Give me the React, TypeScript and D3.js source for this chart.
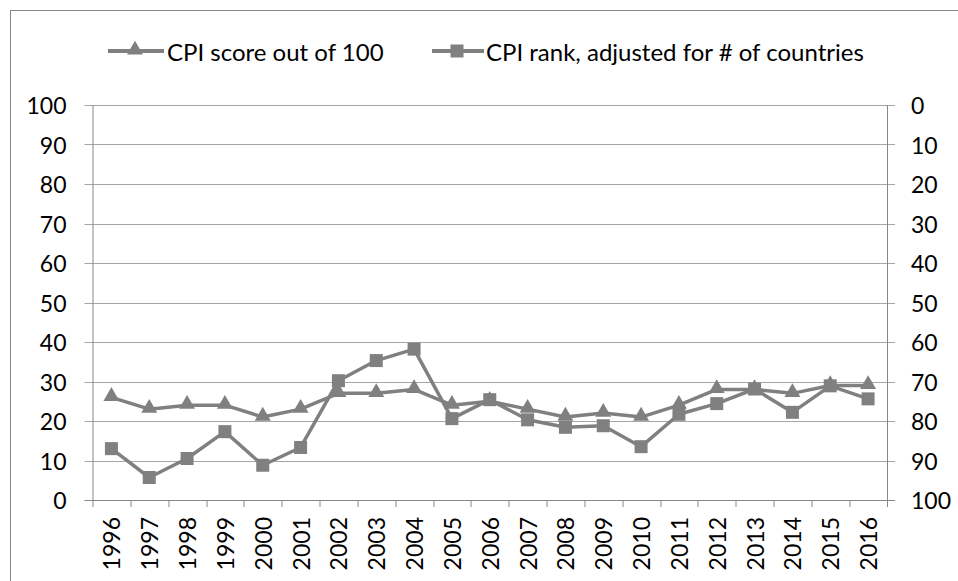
import React from "react";
import * as d3 from "d3";

// years on the category axis
const years = [
  "1996", "1997", "1998", "1999", "2000", "2001", "2002", "2003", "2004", "2005", "2006",
  "2007", "2008", "2009", "2010", "2011", "2012", "2013", "2014", "2015", "2016",
];

// CPI score out of 100 (left axis)
const cpiScore = [26, 23, 24, 24, 21, 23, 27, 27, 28, 24, 25, 23, 21, 22, 21, 24, 28, 28, 27, 29, 29];

// CPI rank adjusted for # of countries (right axis, reversed)
const cpiRank = [
  87, 94.3, 89.5, 82.7, 91.2, 86.7, 69.8, 64.7, 61.8, 79.4, 74.6,
  79.7, 81.6, 81.2, 86.5, 78.3, 75.6, 71.9, 77.8, 71.1, 74.4,
];

const leftTicks = [0, 10, 20, 30, 40, 50, 60, 70, 80, 90, 100];
const rightTicks = [0, 10, 20, 30, 40, 50, 60, 70, 80, 90, 100];

const seriesNames = ["CPI score out of 100", "CPI rank, adjusted for # of countries"];

const W = 958;
const H = 581;
const margin = { top: 105, right: 71, bottom: 81, left: 92.5 };
const font = "Lato, 'Open Sans', sans-serif";
const lineColor = "#808080";
const gridColor = "#a6a6a6";
const axisColor = "#888888";

const triPath = d3.symbol().type(d3.symbolTriangle).size(110)();

export default function App() {
  const innerW = W - margin.left - margin.right;
  const innerH = H - margin.top - margin.bottom;

  const x = d3.scaleBand().domain(years).range([0, innerW]);
  const yLeft = d3.scaleLinear().domain([0, 100]).range([innerH, 0]);
  const yRight = d3.scaleLinear().domain([0, 100]).range([0, innerH]);

  const cx = (d: string) => (x(d) ?? 0) + x.bandwidth() / 2;

  const scoreLine = d3
    .line<number>()
    .x((_, i) => cx(years[i]))
    .y((d) => yLeft(d));
  const rankLine = d3
    .line<number>()
    .x((_, i) => cx(years[i]))
    .y((d) => yRight(d));

  const sq = 13;
  const ly = 51;

  return (
    <div style={{ position: "absolute", left: 0, top: 0 }}>
      <svg width={W} height={H} style={{ display: "block", background: "#fff" }}>
        {/* chart border */}
        <rect x={10.5} y={10.5} width={W + 20} height={H + 20} fill="none" stroke={axisColor} strokeWidth={1} />

        {/* legend */}
        <g fontFamily={font} fontSize={24} fill="#000">
          <line x1={108} x2={164} y1={ly} y2={ly} stroke={lineColor} strokeWidth={4} />
          <path d={triPath} transform={`translate(135,${ly - 1})`} fill={lineColor} />
          <text x={167} y={ly} dominantBaseline="central">{seriesNames[0]}</text>
          <line x1={432} x2={484} y1={ly} y2={ly} stroke={lineColor} strokeWidth={4} />
          <rect x={457 - sq / 2} y={ly - sq / 2} width={sq} height={sq} fill={lineColor} />
          <text x={486} y={ly} dominantBaseline="central">{seriesNames[1]}</text>
        </g>

        <g transform={`translate(${margin.left},${margin.top})`}>
          {/* gridlines */}
          {leftTicks.map((t) => (
            <line
              key={"g" + t}
              x1={-8}
              x2={innerW + 8}
              y1={Math.round(yLeft(t)) + 0.5}
              y2={Math.round(yLeft(t)) + 0.5}
              stroke={gridColor}
              strokeWidth={1}
            />
          ))}
          {/* axes */}
          <line x1={0.5} x2={0.5} y1={0} y2={innerH} stroke={axisColor} />
          <line x1={innerW + 0.5} x2={innerW + 0.5} y1={0} y2={innerH} stroke={axisColor} />
          <line x1={-8} x2={innerW + 8} y1={Math.round(innerH) + 0.5} y2={Math.round(innerH) + 0.5} stroke={axisColor} />
          {years.map((d) => (
            <line
              key={"t" + d}
              x1={Math.round(x(d) ?? 0) + 0.5}
              x2={Math.round(x(d) ?? 0) + 0.5}
              y1={innerH}
              y2={innerH + 7}
              stroke={axisColor}
            />
          ))}
          <line x1={innerW + 0.5} x2={innerW + 0.5} y1={innerH} y2={innerH + 7} stroke={axisColor} />

          {/* axis labels */}
          <g fontFamily={font} fontSize={23} fill="#000">
            {leftTicks.map((t) => (
              <text key={"l" + t} x={-26} y={yLeft(t)} textAnchor="end" dominantBaseline="central">
                {t}
              </text>
            ))}
            {rightTicks.map((t) => (
              <text key={"r" + t} x={innerW + 24} y={yRight(t)} textAnchor="start" dominantBaseline="central">
                {t}
              </text>
            ))}
            {years.map((d) => (
              <text
                key={"x" + d}
                transform={`translate(${cx(d)},${innerH + 17}) rotate(-90)`}
                textAnchor="end"
                dominantBaseline="central"
              >
                {d}
              </text>
            ))}
          </g>

          {/* rank series */}
          <path d={rankLine(cpiRank) ?? ""} fill="none" stroke={lineColor} strokeWidth={3.5} strokeLinejoin="round" />
          {cpiRank.map((v, i) => (
            <rect
              key={"s" + i}
              x={cx(years[i]) - sq / 2}
              y={yRight(v) - sq / 2}
              width={sq}
              height={sq}
              fill={lineColor}
            />
          ))}

          {/* score series */}
          <path d={scoreLine(cpiScore) ?? ""} fill="none" stroke={lineColor} strokeWidth={3.5} strokeLinejoin="round" />
          {cpiScore.map((v, i) => (
            <path
              key={"p" + i}
              d={triPath}
              transform={`translate(${cx(years[i])},${yLeft(v) - 1})`}
              fill={lineColor}
            />
          ))}
        </g>
      </svg>
    </div>
  );
}
